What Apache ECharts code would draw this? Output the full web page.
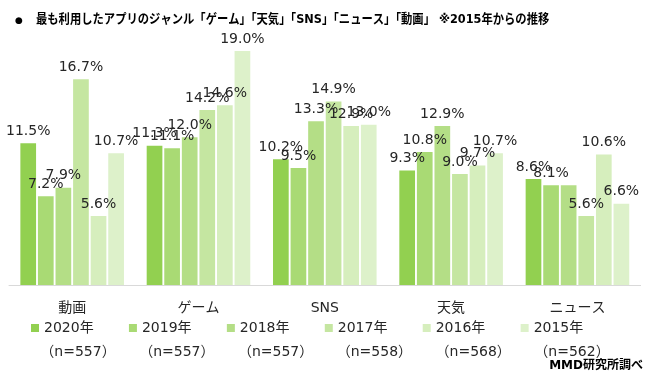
<!DOCTYPE html>
<html>
<head>
<meta charset="utf-8">
<script src="https://cdn.jsdelivr.net/npm/echarts@6/dist/echarts.min.js"></script>
<style>
html,body{margin:0;padding:0;background:#fff;}
#chart{width:651px;height:374px;}
</style>
</head>
<body>
<div id="chart"></div>
<script>
var categories = ['動画', 'ゲーム', 'SNS', '天気', 'ニュース'];
var years = ['2020年', '2019年', '2018年', '2017年', '2016年', '2015年'];
var sampleSizes = ['（n=557）', '（n=557）', '（n=557）', '（n=558）', '（n=568）', '（n=562）'];
var v2020 = [11.5, 11.3, 10.2, 9.3, 8.6];
var v2019 = [7.2, 11.1, 9.5, 10.8, 8.1];
var v2018 = [7.9, 12.0, 13.3, 12.9, 8.1];
var v2017 = [16.7, 14.2, 14.9, 9.0, 5.6];
var v2016 = [5.6, 14.6, 12.9, 9.7, 10.6];
var v2015 = [10.7, 19.0, 13.0, 10.7, 6.6];
var titleText = '最も利用したアプリのジャンル「ゲーム」「天気」「SNS」「ニュース」「動画」 ※2015年からの推移';
var sourceText = 'MMD研究所調べ';

var colors = ['#92D050', '#A9DA74', '#B4DE86', '#C5E6A1', '#D6EEBD', '#DDF1CA'];
var seriesValues = [v2020, v2019, v2018, v2017, v2016, v2015];
var FONT = '"DejaVu Sans", "Noto Sans CJK JP", sans-serif';

var chart = echarts.init(document.getElementById('chart'));
var series = seriesValues.map(function (vals, i) {
  return {
    name: years[i],
    type: 'bar',
    xAxisIndex: 0,
    yAxisIndex: 0,
    data: vals,
    barGap: '12%',
    barCategoryGap: '18%',
    itemStyle: { color: colors[i] },
    label: {
      show: true,
      position: 'top',
      distance: 5,
      color: '#262626',
      fontSize: 14,
      fontFamily: FONT,
      formatter: function (p) {
        // a repeated neighbouring value shares one label (as in the source)
        if (p.seriesIndex > 0 && seriesValues[p.seriesIndex - 1][p.dataIndex] === p.value) return '';
        return p.value.toFixed(1) + '%';
      }
    }
  };
});

chart.setOption({
  animation: false,
  backgroundColor: '#ffffff',
  textStyle: { fontFamily: FONT },
  grid: [
    { left: 9, right: 10.4, top: 38.6, bottom: 89 },
    { left: 28.6, width: 592.8, top: 341, height: 1 }
  ],
  xAxis: [
    {
      type: 'category', gridIndex: 0, data: categories,
      axisLine: { lineStyle: { color: '#D9D9D9', width: 1 } },
      axisTick: { show: false },
      axisLabel: { margin: 16, fontSize: 14, color: '#262626', fontFamily: FONT }
    },
    {
      type: 'category', gridIndex: 1, data: sampleSizes,
      axisLine: { show: false }, axisTick: { show: false },
      axisLabel: { margin: 3, fontSize: 14, color: '#262626', fontFamily: FONT }
    }
  ],
  yAxis: [
    { type: 'value', gridIndex: 0, min: 0, max: 20, show: false, splitLine: { show: false } },
    { type: 'value', gridIndex: 1, show: false, splitLine: { show: false } }
  ],
  legend: {
    data: years,
    left: 31,
    top: 321,
    padding: 0,
    itemWidth: 8,
    itemHeight: 8,
    itemGap: 35.3,
    icon: 'rect',
    textStyle: { fontSize: 14, color: '#262626', fontFamily: FONT }
  },
  graphic: [
    {
      type: 'text', left: 15, top: 16,
      style: { text: '●', font: '9px ' + FONT, fill: '#000' }
    },
    {
      type: 'text', x: 36, y: 13, scaleX: 0.87,
      style: { text: titleText, font: 'bold 13px ' + FONT, fill: '#000' }
    },
    {
      type: 'text', right: 8, top: 360,
      style: { text: sourceText, font: 'bold 12px ' + FONT, fill: '#000' }
    }
  ],
  series: series
});
</script>
</body>
</html>
